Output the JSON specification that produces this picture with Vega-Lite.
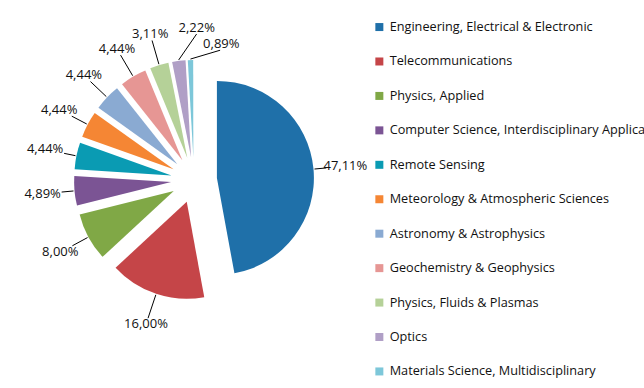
{
  "$schema": "https://vega.github.io/schema/vega-lite/v6.json",
  "width": 388,
  "height": 360,
  "autosize": "none",
  "padding": {"left": 0, "top": 0, "right": 256, "bottom": 28},
  "background": "white",
  "config": {
    "view": {"stroke": null},
    "locale": {"number": {"decimal": ",", "thousands": ".", "grouping": [3], "currency": ["", " €"]}}
  },
  "data": {"values": [
    {"category": "Engineering, Electrical & Electronic", "share": 0.4711},
    {"category": "Telecommunications", "share": 0.16},
    {"category": "Physics, Applied", "share": 0.08},
    {"category": "Computer Science, Interdisciplinary Applications", "share": 0.0489},
    {"category": "Remote Sensing", "share": 0.0444},
    {"category": "Meteorology & Atmospheric Sciences", "share": 0.0444},
    {"category": "Astronomy & Astrophysics", "share": 0.0444},
    {"category": "Geochemistry & Geophysics", "share": 0.0444},
    {"category": "Physics, Fluids & Plasmas", "share": 0.0311},
    {"category": "Optics", "share": 0.0222},
    {"category": "Materials Science, Multidisciplinary", "share": 0.0089}
  ]},
  "transform": [
    {"stack": "share", "groupby": [], "sort": [{"field": "share", "order": "descending"}], "as": ["s0", "s1"]}
  ],
  "layer": [
    {
      "mark": {"type": "arc", "radius": 97, "strokeWidth": 0},
      "encoding": {
        "theta": {"field": "s0", "type": "quantitative", "stack": null, "scale": {"domain": [0, 1], "nice": false}},
        "theta2": {"field": "s1"},
        "x": {"value": {"expr": "width/2 + 23*sin(scale('theta',(datum.s0+datum.s1)/2))"}},
        "y": {"value": {"expr": "height/2 - 23*cos(scale('theta',(datum.s0+datum.s1)/2))"}},
        "color": {
          "field": "category",
          "type": "nominal",
          "scale": {
            "domain": [
              "Engineering, Electrical & Electronic",
              "Telecommunications",
              "Physics, Applied",
              "Computer Science, Interdisciplinary Applications",
              "Remote Sensing",
              "Meteorology & Atmospheric Sciences",
              "Astronomy & Astrophysics",
              "Geochemistry & Geophysics",
              "Physics, Fluids & Plasmas",
              "Optics",
              "Materials Science, Multidisciplinary"
            ],
            "range": ["#1F70A9", "#C54548", "#80A846", "#7B5494", "#0A9BB3", "#F58634", "#8AAAD2", "#E69694", "#B5D198", "#B09FC6", "#7DC7D9"]
          },
          "legend": {
            "orient": "none",
            "legendX": 373,
            "legendY": 20.7,
            "title": null,
            "symbolType": "square",
            "symbolSize": 64,
            "symbolStrokeWidth": 0,
            "symbolOpacity": 1,
            "labelFont": "Open Sans",
            "labelFontSize": 12.7,
            "labelColor": "#111111",
            "labelLimit": 1000,
            "labelOffset": 4,
            "rowPadding": 20.44,
            "padding": 0,
            "offset": 0
          }
        }
      }
    },
    {
      "mark": {"type": "rule", "color": "#000000", "strokeWidth": 1},
      "encoding": {
        "x": {"value": {"expr": "width/2 + 121*sin(scale('theta',(datum.s0+datum.s1)/2))"}},
        "y": {"value": {"expr": "height/2 - 121*cos(scale('theta',(datum.s0+datum.s1)/2))"}},
        "x2": {"value": {"expr": "width/2 + (153 - 250*max(0, scale('theta',(datum.s0+datum.s1)/2) - 6.2) - min(20/abs(sin(scale('theta',(datum.s0+datum.s1)/2) + 0.85*max(0, scale('theta',(datum.s0+datum.s1)/2) - 5.986))), 7/abs(cos(scale('theta',(datum.s0+datum.s1)/2) + 0.85*max(0, scale('theta',(datum.s0+datum.s1)/2) - 5.986)))))*sin(scale('theta',(datum.s0+datum.s1)/2) + 0.85*max(0, scale('theta',(datum.s0+datum.s1)/2) - 5.986))"}},
        "y2": {"value": {"expr": "height/2 - (153 - 250*max(0, scale('theta',(datum.s0+datum.s1)/2) - 6.2) - min(20/abs(sin(scale('theta',(datum.s0+datum.s1)/2) + 0.85*max(0, scale('theta',(datum.s0+datum.s1)/2) - 5.986))), 7/abs(cos(scale('theta',(datum.s0+datum.s1)/2) + 0.85*max(0, scale('theta',(datum.s0+datum.s1)/2) - 5.986)))))*cos(scale('theta',(datum.s0+datum.s1)/2) + 0.85*max(0, scale('theta',(datum.s0+datum.s1)/2) - 5.986))"}}
      }
    },
    {
      "mark": {"type": "text", "font": "Open Sans", "fontSize": 13, "color": "#111111", "align": "center", "baseline": "middle"},
      "encoding": {
        "x": {"value": {"expr": "width/2 + (152 - 250*max(0, scale('theta',(datum.s0+datum.s1)/2) - 6.2))*sin(scale('theta',(datum.s0+datum.s1)/2) + 0.85*max(0, scale('theta',(datum.s0+datum.s1)/2) - 5.986))"}},
        "y": {"value": {"expr": "height/2 - (152 - 250*max(0, scale('theta',(datum.s0+datum.s1)/2) - 6.2))*cos(scale('theta',(datum.s0+datum.s1)/2) + 0.85*max(0, scale('theta',(datum.s0+datum.s1)/2) - 5.986))"}},
        "text": {"field": "share", "type": "quantitative", "format": ".2%"}
      }
    }
  ]
}
